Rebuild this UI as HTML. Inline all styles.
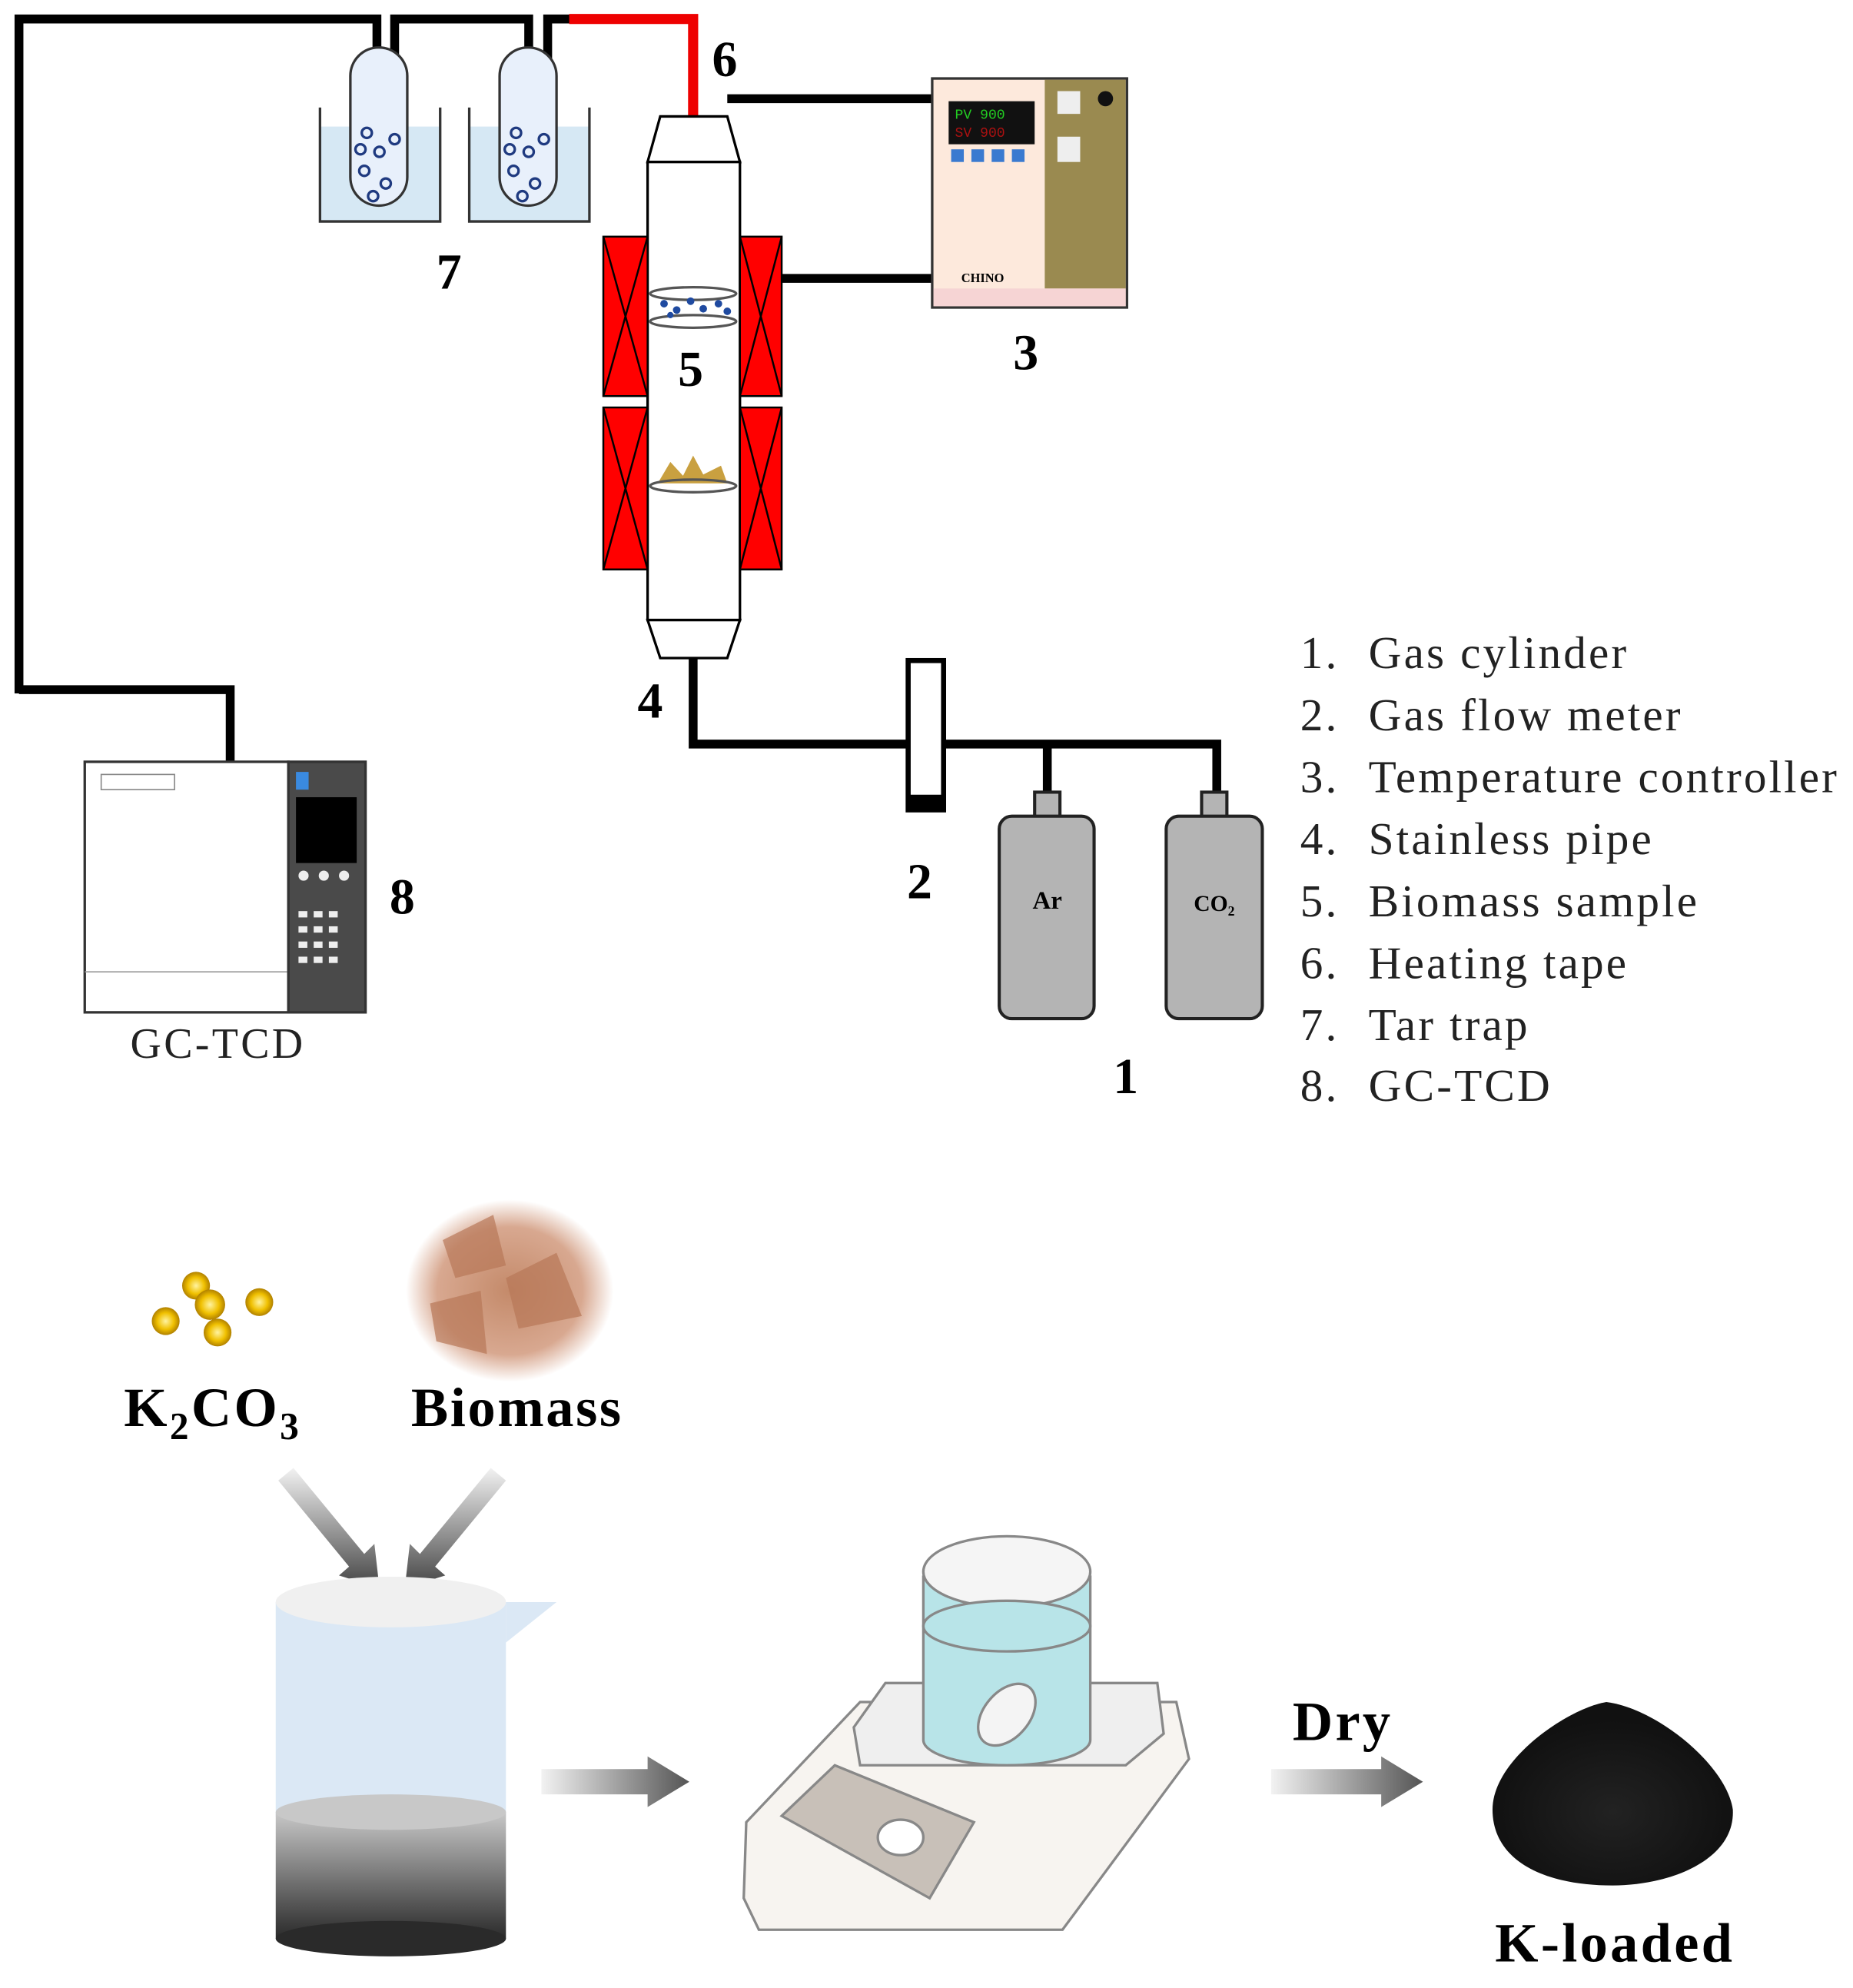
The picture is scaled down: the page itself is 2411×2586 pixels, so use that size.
<!DOCTYPE html>
<html><head><meta charset="utf-8"><style>html,body{margin:0;padding:0;background:#fff}svg{display:block}</style></head><body>
<svg width="2411" height="2586" viewBox="0 0 1465 1571" preserveAspectRatio="none" xmlns="http://www.w3.org/2000/svg" font-family="Liberation Serif, serif">
<defs>
<linearGradient id="ag" x1="0" x2="1"><stop offset="0" stop-color="#f2f2f2"/><stop offset="1" stop-color="#555"/></linearGradient>
<linearGradient id="dg" x1="0" y1="0" x2="0" y2="1"><stop offset="0" stop-color="#f2f2f2"/><stop offset="1" stop-color="#444"/></linearGradient>
<linearGradient id="bk" x1="0" y1="0" x2="0" y2="1"><stop offset="0" stop-color="#c8c8c8"/><stop offset="1" stop-color="#2a2a2a"/></linearGradient>
<radialGradient id="gold"><stop offset="0" stop-color="#fff3a0"/><stop offset="0.6" stop-color="#f0c000"/><stop offset="1" stop-color="#b08000"/></radialGradient>
<radialGradient id="chips"><stop offset="0" stop-color="#c48a6a"/><stop offset="0.7" stop-color="#d8a890"/><stop offset="1" stop-color="#fff"/></radialGradient>
<radialGradient id="pile" cx="0.5" cy="0.6"><stop offset="0" stop-color="#222"/><stop offset="1" stop-color="#111"/></radialGradient>
</defs>
<g fill="none" stroke="#000" stroke-width="7">
<polyline points="15,548 15,15 298,15 298,130"/>
<polyline points="312,130 312,15 418,15 418,130"/>
<polyline points="433,130 433,15 452,15"/>
<polyline points="15,545 182,545 182,602"/>
<polyline points="548,505 548,588 718,588"/>
<polyline points="746,588 962,588 962,628"/>
<line x1="828" y1="588" x2="828" y2="628"/>
<line x1="575" y1="78" x2="737" y2="78"/>
<line x1="618" y1="220" x2="737" y2="220"/>
<line x1="548" y1="100" x2="548" y2="128"/>
</g>
<polyline points="450,15 548,15 548,100" fill="none" stroke="#e00" stroke-width="8"/>
<g stroke="#333" stroke-width="2">
<rect x="253" y="100" width="95" height="75" fill="#d6e8f4" stroke="none"/>
<polyline points="253,85 253,175 348,175 348,85" fill="none"/>
<rect x="371" y="100" width="95" height="75" fill="#d6e8f4" stroke="none"/>
<polyline points="371,85 371,175 466,175 466,85" fill="none"/>
<path d="M277,60 a22,22 0 0 1 45,0 V140 a22,22 0 0 1 -45,0 Z" fill="#e8f0fb"/>
<path d="M395,60 a22,22 0 0 1 45,0 V140 a22,22 0 0 1 -45,0 Z" fill="#e8f0fb"/>
</g>
<g fill="none" stroke="#1f3a80" stroke-width="2">
<circle cx="290" cy="105" r="4"/><circle cx="300" cy="120" r="4"/><circle cx="288" cy="135" r="4"/><circle cx="305" cy="145" r="4"/><circle cx="295" cy="155" r="4"/><circle cx="312" cy="110" r="4"/><circle cx="285" cy="118" r="4"/>
<circle cx="408" cy="105" r="4"/><circle cx="418" cy="120" r="4"/><circle cx="406" cy="135" r="4"/><circle cx="423" cy="145" r="4"/><circle cx="413" cy="155" r="4"/><circle cx="430" cy="110" r="4"/><circle cx="403" cy="118" r="4"/>
</g>
<g stroke="#000" stroke-width="2" fill="#fff">
<polygon points="522,92 575,92 585,128 512,128"/>
<rect x="512" y="128" width="73" height="362"/>
<polygon points="512,490 585,490 575,520 522,520"/>
</g>
<g stroke="#000" stroke-width="1.5" fill="#f00">
<rect x="477" y="187" width="35" height="126"/><rect x="585" y="187" width="33" height="126"/>
<rect x="477" y="322" width="35" height="128"/><rect x="585" y="322" width="33" height="128"/>
<path d="M477,187 L512,313 M512,187 L477,313 M585,187 L618,313 M618,187 L585,313 M477,322 L512,450 M512,322 L477,450 M585,322 L618,450 M618,322 L585,450" fill="none"/>
</g>
<ellipse cx="548" cy="232" rx="34" ry="5" fill="none" stroke="#555" stroke-width="2"/>
<ellipse cx="548" cy="254" rx="34" ry="5" fill="none" stroke="#555" stroke-width="2"/>
<g fill="#1f4aa0"><circle cx="525" cy="240" r="3"/><circle cx="535" cy="245" r="3"/><circle cx="546" cy="238" r="3"/><circle cx="556" cy="244" r="3"/><circle cx="568" cy="240" r="3"/><circle cx="575" cy="246" r="3"/><circle cx="530" cy="249" r="2.5"/></g>
<polygon points="520,382 530,365 540,376 548,360 556,375 570,368 575,382" fill="#c9a040"/>
<ellipse cx="548" cy="384" rx="34" ry="5" fill="none" stroke="#555" stroke-width="2"/>
<rect x="737" y="62" width="154" height="181" fill="#fde9dc" stroke="#333" stroke-width="2"/>
<rect x="826" y="63" width="64" height="165" fill="#9a8a50"/>
<rect x="738" y="228" width="152" height="14" fill="#f6d4d4"/>
<rect x="750" y="80" width="68" height="34" fill="#111"/>
<text x="755" y="94" font-size="11" fill="#2c2" font-family="Liberation Mono, monospace">PV 900</text>
<text x="755" y="108" font-size="11" fill="#a11" font-family="Liberation Mono, monospace">SV 900</text>
<g fill="#3a7ad0"><rect x="752" y="118" width="10" height="10"/><rect x="768" y="118" width="10" height="10"/><rect x="784" y="118" width="10" height="10"/><rect x="800" y="118" width="10" height="10"/></g>
<rect x="836" y="72" width="18" height="18" fill="#eee"/><circle cx="874" cy="78" r="6" fill="#111"/><rect x="836" y="108" width="18" height="20" fill="#eee"/>
<text x="760" y="223" font-size="10" font-weight="bold">CHINO</text>
<rect x="718" y="522" width="28" height="118" fill="#fff" stroke="#000" stroke-width="4"/>
<rect x="718" y="628" width="28" height="12" fill="#000"/>
<g stroke="#222" stroke-width="2.5" fill="#b4b4b4">
<rect x="818" y="626" width="20" height="20"/><rect x="950" y="626" width="20" height="20"/>
<rect x="790" y="645" width="75" height="160" rx="10"/><rect x="922" y="645" width="76" height="160" rx="10"/>
</g>
<text x="828" y="718" font-size="20" font-weight="bold" text-anchor="middle">Ar</text>
<text x="960" y="720" font-size="18" font-weight="bold" text-anchor="middle">CO₂</text>
<rect x="67" y="602" width="161" height="198" fill="#fff" stroke="#333" stroke-width="2"/>
<line x1="67" y1="768" x2="228" y2="768" stroke="#999"/>
<rect x="80" y="612" width="58" height="12" fill="none" stroke="#888"/>
<rect x="228" y="602" width="61" height="198" fill="#4a4a4a" stroke="#333" stroke-width="2"/>
<rect x="234" y="630" width="48" height="52" fill="#000"/>
<rect x="234" y="610" width="10" height="14" fill="#3a8ae0"/>
<g fill="#eee"><circle cx="240" cy="692" r="4"/><circle cx="256" cy="692" r="4"/><circle cx="272" cy="692" r="4"/>
<rect x="236" y="720" width="7" height="5"/><rect x="248" y="720" width="7" height="5"/><rect x="260" y="720" width="7" height="5"/><rect x="236" y="732" width="7" height="5"/><rect x="248" y="732" width="7" height="5"/><rect x="260" y="732" width="7" height="5"/><rect x="236" y="744" width="7" height="5"/><rect x="248" y="744" width="7" height="5"/><rect x="260" y="744" width="7" height="5"/><rect x="236" y="756" width="7" height="5"/><rect x="248" y="756" width="7" height="5"/><rect x="260" y="756" width="7" height="5"/></g>
<text x="103" y="836" font-size="34" fill="#222" letter-spacing="2">GC-TCD</text>
<g font-size="40" font-weight="bold" text-anchor="middle">
<text x="573" y="60">6</text><text x="355" y="228">7</text><text x="546" y="305">5</text><text x="811" y="292">3</text><text x="514" y="567">4</text><text x="727" y="710">2</text><text x="890" y="864">1</text><text x="318" y="722">8</text>
</g>
<g font-size="36" fill="#222" letter-spacing="1.9">
<text x="1028" y="528">1.</text><text x="1082" y="528">Gas cylinder</text>
<text x="1028" y="577">2.</text><text x="1082" y="577">Gas flow meter</text>
<text x="1028" y="626">3.</text><text x="1082" y="626">Temperature controller</text>
<text x="1028" y="675">4.</text><text x="1082" y="675">Stainless pipe</text>
<text x="1028" y="724">5.</text><text x="1082" y="724">Biomass sample</text>
<text x="1028" y="773">6.</text><text x="1082" y="773">Heating tape</text>
<text x="1028" y="822">7.</text><text x="1082" y="822">Tar trap</text>
<text x="1028" y="870">8.</text><text x="1082" y="870">GC-TCD</text>
</g>
<g fill="url(#gold)"><circle cx="155" cy="1016" r="11"/><circle cx="166" cy="1031" r="12"/><circle cx="205" cy="1029" r="11"/><circle cx="131" cy="1044" r="11"/><circle cx="172" cy="1053" r="11"/></g>
<ellipse cx="403" cy="1020" rx="82" ry="72" fill="url(#chips)"/>
<g fill="#b87858" opacity="0.7"><polygon points="350,980 390,960 400,1000 360,1010"/><polygon points="400,1010 440,990 460,1040 410,1050"/><polygon points="340,1030 380,1020 385,1070 345,1060"/></g>
<text x="98" y="1127" font-size="44" font-weight="bold" letter-spacing="2">K<tspan font-size="30" dy="10">2</tspan><tspan dy="-10">CO</tspan><tspan font-size="30" dy="10">3</tspan></text>
<text x="325" y="1127" font-size="44" font-weight="bold" letter-spacing="1.6">Biomass</text>
<polygon points="220,1170 232,1160 288,1228 296,1220 300,1255 268,1245 276,1238" fill="url(#dg)"/>
<polygon points="400,1170 388,1160 332,1228 324,1220 320,1255 352,1245 344,1238" fill="url(#dg)"/>
<polygon points="400,1266 440,1266 400,1298" fill="#dbe8f5"/>
<rect x="218" y="1266" width="182" height="170" fill="#dbe8f5"/>
<rect x="218" y="1432" width="182" height="100" fill="url(#bk)"/>
<ellipse cx="309" cy="1532" rx="91" ry="14" fill="#2a2a2a"/>
<ellipse cx="309" cy="1432" rx="91" ry="14" fill="#c8c8c8"/>
<ellipse cx="309" cy="1266" rx="91" ry="20" fill="#f0f0f0"/>
<polygon points="428,1398 512,1398 512,1388 545,1408 512,1428 512,1418 428,1418" fill="url(#ag)"/>
<g stroke="#888" stroke-width="2">
<path d="M590,1440 L680,1345 L930,1345 L940,1390 L840,1525 L600,1525 L588,1500 Z" fill="#f7f4f0"/>
<path d="M675,1365 L700,1330 L915,1330 L920,1370 L890,1395 L680,1395 Z" fill="#efefef"/>
<polygon points="618,1435 660,1395 770,1440 735,1500" fill="#c8c0b8"/>
<ellipse cx="712" cy="1452" rx="18" ry="14" fill="#fff"/>
<path d="M730,1245 V1375 a66,20 0 0 0 132,0 V1245" fill="#b8e4e8"/>
<ellipse cx="796" cy="1242" rx="66" ry="28" fill="#f5f5f5"/>
<ellipse cx="796" cy="1285" rx="66" ry="20" fill="#b8e4e8"/>
<ellipse cx="796" cy="1355" rx="18" ry="28" fill="#f4f4f4" transform="rotate(40 796 1355)"/>
</g>
<text x="1022" y="1375" font-size="44" font-weight="bold" letter-spacing="2">Dry</text>
<polygon points="1005,1398 1092,1398 1092,1388 1125,1408 1092,1428 1092,1418 1005,1418" fill="url(#ag)"/>
<path d="M1180,1430 C1180,1390 1240,1350 1270,1345 C1310,1350 1365,1395 1370,1430 C1372,1470 1320,1490 1275,1490 C1220,1490 1180,1470 1180,1430 Z" fill="url(#pile)"/>
<text x="1182" y="1550" font-size="44" font-weight="bold" letter-spacing="2">K-loaded</text>
</svg>
</body></html>
